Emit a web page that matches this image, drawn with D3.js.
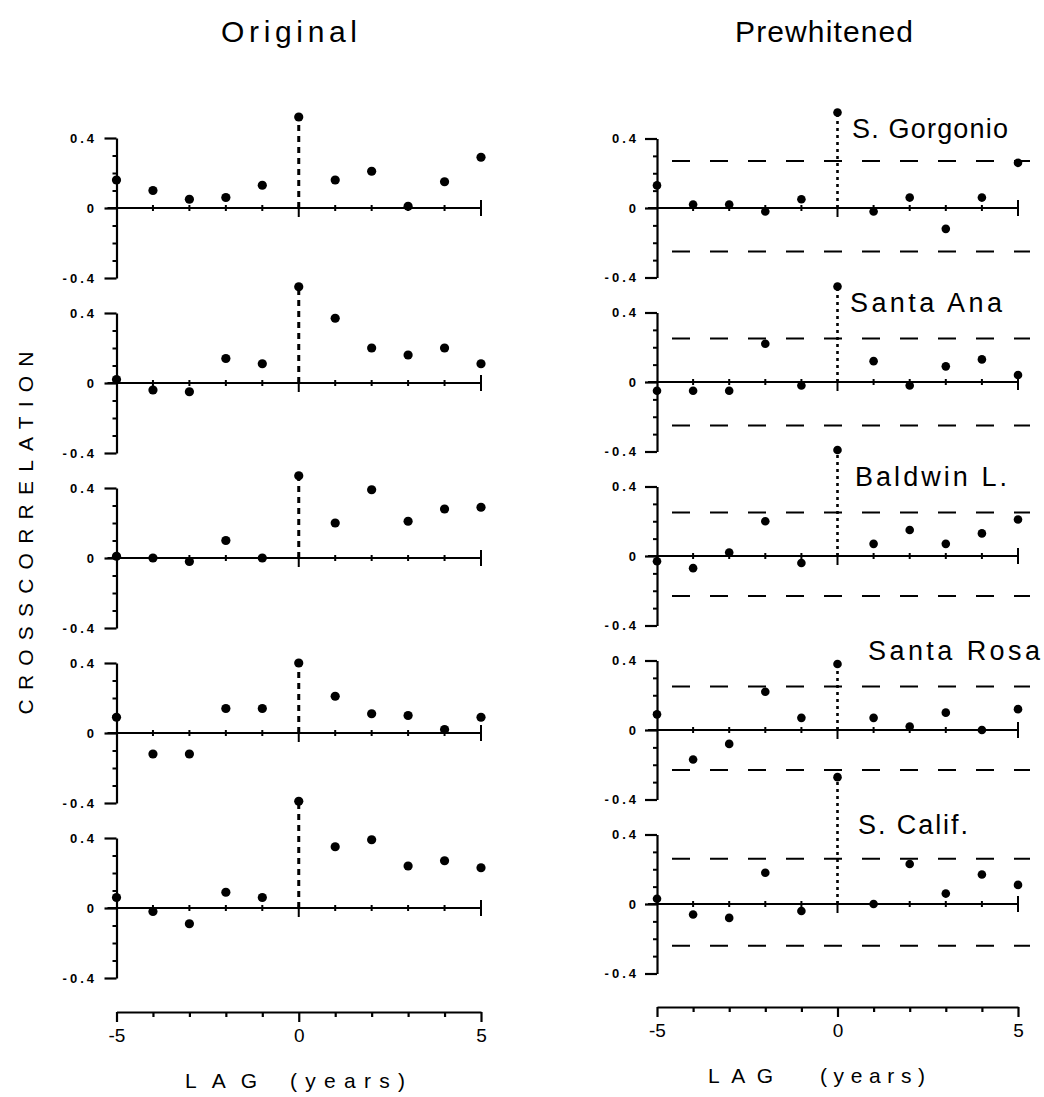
<!DOCTYPE html>
<html>
<head>
<meta charset="utf-8">
<script src="https://cdn.jsdelivr.net/npm/d3@7"></script>
<style>
  html, body { margin: 0; background: #fff; }
  svg { display: block; }
</style>
</head>
<body>
<svg id="chart" width="1044" height="1097"></svg>
<script>
// Lags (years) and stations
const lags = [-5, -4, -3, -2, -1, 0, 1, 2, 3, 4, 5];
const stations = ["S. Gorgonio", "Santa Ana", "Baldwin L.", "Santa Rosa", "S. Calif."];

// Cross-correlations of the original series, one row per station, lag -5..5
const originalValues = [
  [0.16, 0.10, 0.05, 0.06, 0.13, 0.52, 0.16, 0.21, 0.01, 0.15, 0.29],
  [0.02, -0.04, -0.05, 0.14, 0.11, 0.55, 0.37, 0.20, 0.16, 0.20, 0.11],
  [0.01, 0.00, -0.02, 0.10, 0.00, 0.47, 0.20, 0.39, 0.21, 0.28, 0.29],
  [0.09, -0.12, -0.12, 0.14, 0.14, 0.40, 0.21, 0.11, 0.10, 0.02, 0.09],
  [0.06, -0.02, -0.09, 0.09, 0.06, 0.61, 0.35, 0.39, 0.24, 0.27, 0.23]
];

// Cross-correlations after prewhitening
const prewhitenedValues = [
  [0.13, 0.02, 0.02, -0.02, 0.05, 0.55, -0.02, 0.06, -0.12, 0.06, 0.26],
  [-0.05, -0.05, -0.05, 0.22, -0.02, 0.55, 0.12, -0.02, 0.09, 0.13, 0.04],
  [-0.03, -0.07, 0.02, 0.20, -0.04, 0.61, 0.07, 0.15, 0.07, 0.13, 0.21],
  [0.09, -0.17, -0.08, 0.22, 0.07, 0.38, 0.07, 0.02, 0.10, 0.00, 0.12],
  [0.03, -0.06, -0.08, 0.18, -0.04, 0.73, 0.00, 0.23, 0.06, 0.17, 0.11]
];

// Significance limits drawn as dashed lines in the prewhitened panels
const upperLimits = [0.27, 0.25, 0.25, 0.25, 0.26];
const lowerLimits = [-0.25, -0.25, -0.23, -0.23, -0.24];

// Tick labels
const yTickValues = [-0.4, 0, 0.4];
const yMinorTicks = [-0.3, -0.2, -0.1, 0.1, 0.2, 0.3];
const xTickLabels = [-5, 0, 5];

// Layout
const FONT = "'Liberation Sans', Arial, sans-serif";
const columns = [
  { title: "Original", values: originalValues, x0: 116.5, x1: 481, zeroTop: 208, step: 175, half: 70,
    axisY: 1012, titleX: 289, titleW: 136, dotR: 4.6, leaderWidth: 3, leaderDash: "6,5", labelRight: 97,
    lagLabelX: [185, 290], lagLabelW: [72, 115], lagLabelY: 1088, bands: false },
  { title: "Prewhitened", values: prewhitenedValues, x0: 657, x1: 1018, zeroTop: 208, step: 174, half: 69.5,
    axisY: 1007, titleX: 824, titleW: 178, dotR: 4.3, leaderWidth: 2.6, leaderDash: "3,4", labelRight: 639,
    lagLabelX: [708, 820], lagLabelW: [65, 105], lagLabelY: 1083, bands: true }
];
const stationLabelX = [852, 850, 855, 868, 858];
const stationLabelW = [156, 152, 152, 172, 110];

const svg = d3.select("#chart");
const fmtY = v => v === 0 ? "0" : (v < 0 ? "-" : "") + Math.abs(v).toFixed(1);
const fmtX = d => xTickLabels.includes(d) ? (d < 0 ? "-" + Math.abs(d) : String(d)) : "";

function styleAxis(g, width) {
  g.selectAll("path, line").attr("stroke", "#000").attr("stroke-width", width);
}

columns.forEach(col => {
  const x = d3.scaleLinear().domain([-5, 5]).range([col.x0, col.x1]);
  const colG = svg.append("g");

  // Column title
  colG.append("text")
    .attr("x", col.titleX).attr("y", 42)
    .attr("text-anchor", "middle")
    .attr("font-family", FONT).attr("font-size", 30)
    .attr("textLength", col.titleW)
    .attr("lengthAdjust", "spacing")
    .text(col.title);

  col.values.forEach((vals, i) => {
    const zero = col.zeroTop + i * col.step;
    const y = d3.scaleLinear().domain([-0.4, 0.4]).range([zero + col.half, zero - col.half]);
    const g = colG.append("g");

    // Vertical axis with major labelled ticks
    const ya = g.append("g")
      .attr("transform", `translate(${x(-5)},0)`)
      .call(d3.axisLeft(y).tickValues(yTickValues).tickSize(12).tickSizeOuter(0)
        .tickPadding(x(-5) - col.labelRight - 12).tickFormat(fmtY));
    styleAxis(ya, 2.2);
    ya.selectAll("text")
      .attr("font-family", FONT).attr("font-size", 13).attr("font-weight", "bold")
      .attr("letter-spacing", 3).attr("fill", "#000");

    // Minor ticks
    const ym = g.append("g")
      .attr("transform", `translate(${x(-5)},0)`)
      .call(d3.axisLeft(y).tickValues(yMinorTicks).tickSize(4).tickFormat(""));
    ym.select(".domain").remove();
    styleAxis(ym, 2);

    // Zero line
    g.append("line")
      .attr("x1", x(-5) - 9).attr("x2", x(5))
      .attr("y1", y(0)).attr("y2", y(0))
      .attr("stroke", "#000").attr("stroke-width", 2);

    // Lag ticks crossing the zero line
    g.selectAll("line.lagtick")
      .data(lags.filter(l => l > -5))
      .join("line")
      .attr("class", "lagtick")
      .attr("x1", d => x(d)).attr("x2", d => x(d))
      .attr("y1", d => y(0) - (d === 5 ? 8 : 3))
      .attr("y2", d => y(0) + (d === 5 ? 8 : d === 0 ? 9 : 3))
      .attr("stroke", "#000").attr("stroke-width", 2);

    // Significance limits
    if (col.bands) {
      [upperLimits[i], lowerLimits[i]].forEach(lim => {
        g.append("line")
          .attr("x1", x(-5) + 15).attr("x2", x(5) + 12)
          .attr("y1", y(lim)).attr("y2", y(lim))
          .attr("stroke", "#000").attr("stroke-width", 2)
          .attr("stroke-dasharray", "18,20");
      });
    }

    // Dotted leader from the axis up to the lag-0 value
    const v0 = vals[lags.indexOf(0)];
    g.append("line")
      .attr("x1", x(0)).attr("x2", x(0))
      .attr("y1", y(0)).attr("y2", y(v0))
      .attr("stroke", "#000").attr("stroke-width", col.leaderWidth)
      .attr("stroke-dasharray", col.leaderDash);

    // Points
    g.selectAll("circle")
      .data(vals.map((v, k) => ({ lag: lags[k], v })))
      .join("circle")
      .attr("cx", d => x(d.lag)).attr("cy", d => y(d.v))
      .attr("r", col.dotR).attr("fill", "#000");

    // Station name
    if (col.bands) {
      g.append("text")
        .attr("x", stationLabelX[i]).attr("y", zero - 70)
        .attr("font-family", FONT).attr("font-size", 27)
        .attr("textLength", stationLabelW[i]).attr("lengthAdjust", "spacing")
        .text(stations[i]);
    }
  });

  // Lag axis
  const xa = colG.append("g")
    .attr("transform", `translate(0,${col.axisY})`)
    .call(d3.axisBottom(x).tickValues(lags).tickSize(5).tickSizeOuter(0).tickPadding(12).tickFormat(fmtX));
  styleAxis(xa, 2.2);
  xa.selectAll(".tick line").attr("y2", d => xTickLabels.includes(d) ? 10 : 5);
  xa.selectAll("text")
    .attr("font-family", FONT).attr("font-size", 19).attr("fill", "#000");

  // Axis title
  const lagText = colG.append("g")
    .attr("font-family", FONT).attr("font-size", 21);
  lagText.append("text")
    .attr("x", col.lagLabelX[0]).attr("y", col.lagLabelY)
    .attr("textLength", col.lagLabelW[0]).attr("lengthAdjust", "spacing")
    .text("LAG");
  lagText.append("text")
    .attr("x", col.lagLabelX[1]).attr("y", col.lagLabelY)
    .attr("textLength", col.lagLabelW[1]).attr("lengthAdjust", "spacing")
    .text("(years)");
});

// Shared y-axis title
svg.append("text")
  .attr("transform", "translate(33,533) rotate(-90)")
  .attr("text-anchor", "middle")
  .attr("font-family", FONT).attr("font-size", 21)
  .attr("textLength", 363).attr("lengthAdjust", "spacing")
  .text("CROSSCORRELATION");
</script>
</body>
</html>
